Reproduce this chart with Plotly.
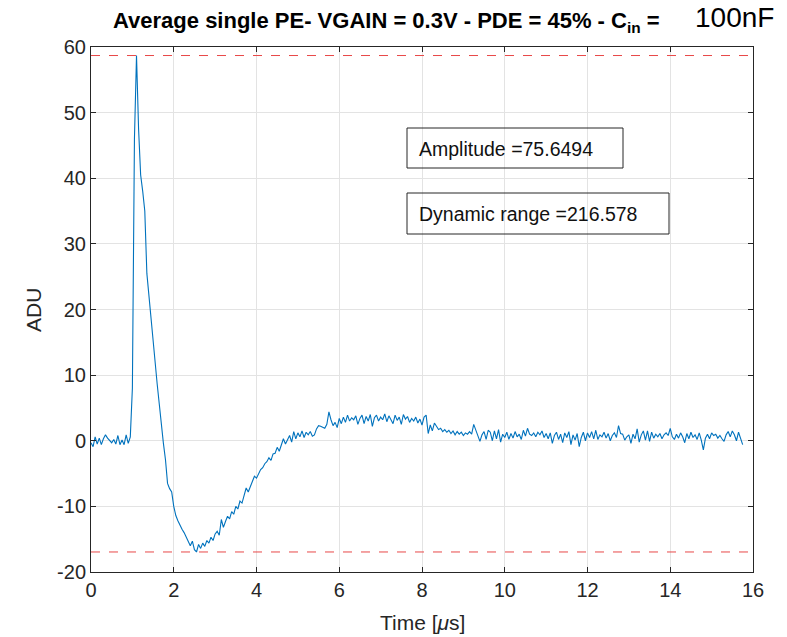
import numpy as np
import plotly.graph_objects as go

# ---- data ----
dt_us = 0.05  # sampling step of the read-off waveform [us]
adu = [
    # 0.00 - 0.95
    -0.3, -0.9, 0.6, -0.5, 0.4, -0.6, 0.3, 0.9, 0.4, 0.1,
    -0.3, 0.2, -0.5, 0.8, -0.6, 0.1, -0.6, 0.9, -0.4, 0.6,
    # 1.00 - 1.95
    8.0, 46.0, 58.7, 47.5, 40.5, 38.0, 35.0, 25.5, 22.0, 18.4,
    14.8, 11.3, 8.6, 5.6, 2.0, -0.4, -2.9, -6.5, -7.3, -7.8,
    # 2.00 - 2.95
    -10.0, -11.4, -12.2, -12.9, -13.5, -14.0, -14.6, -15.2, -16.0, -15.3,
    -16.6, -16.95, -15.8, -16.4, -15.6, -16.1, -15.2, -15.6, -14.7, -15.2,
    # 3.00 - 3.95
    -14.2, -13.8, -14.4, -12.0, -13.2, -12.3, -11.5, -11.9, -10.8, -11.2,
    -10.0, -10.4, -9.2, -9.5, -8.2, -7.2, -7.8, -6.9, -6.0, -5.4,
    # 4.00 - 4.95
    -5.7, -4.9, -4.4, -4.1, -3.5, -3.2, -2.6, -3.0, -2.0, -1.9,
    -1.0, -1.6, -0.5, 0.3, -0.5, 0.2, 0.8, -0.2, 1.4, 0.3,
    # 5.00 - 5.95
    1.2, 0.6, 1.5, 0.5, 1.3, 0.9, 1.4, 0.7, 0.9, 1.8,
    2.3, 2.2, 2.1, 1.9, 2.5, 4.4, 3.2, 2.3, 2.8, 2.0,
    # 6.00 - 6.95
    3.4, 2.6, 3.6, 2.8, 3.9, 3.0, 3.5, 3.2, 3.8, 2.5,
    3.4, 3.9, 2.6, 3.7, 3.0, 4.0, 2.2, 3.5, 3.9, 3.0,
    # 7.00 - 7.95
    3.6, 3.2, 4.1, 2.9, 3.8, 3.3, 2.6, 3.9, 3.1, 3.6,
    2.5, 4.0, 3.3, 3.7, 2.8, 3.4, 3.0, 3.6, 2.7, 3.3,
    # 8.00 - 8.95
    2.4, 3.6, 3.9, 1.1, 2.4, 1.5, 2.7, 2.2, 1.7, 1.9,
    1.4, 1.7, 1.3, 1.6, 1.1, 1.5, 0.9, 1.4, 1.0, 1.3,
    # 9.00 - 9.95
    0.8, 1.2, 1.0, 1.4, 1.0, 2.5, 1.6, 0.6, -0.1, 0.9,
    1.4, 0.2, 1.6, 1.3, 0.0, 1.5, 0.3, 1.7, -0.2, 1.0,
    # 10.00 - 10.95
    0.5, 1.3, 0.2, 1.1, 0.4, 1.4, 0.6, 1.0, 0.2, 1.6,
    0.7, 1.9, 1.0, 0.8, 1.2, 0.6, 1.3, 0.9, 1.5, 0.5,
    # 11.00 - 11.95
    1.1, 0.3, 1.2, -0.4, 0.8, 1.3, 0.2, 1.0, -0.3, 1.2,
    0.5, 1.4, -0.6, 0.9, 0.1, 1.1, -0.9, 0.5, 1.3, 0.0,
    # 12.00 - 12.95
    1.2, 0.5, 1.4, 0.3, 1.6, 0.2, 0.9, 0.6, 1.3, 0.4,
    1.1, 0.0, 0.8, 1.2, 0.5, 2.3, 1.1, 1.0, 0.1, 0.6,
    # 13.00 - 13.95
    0.9, -0.4, 1.0, 0.3, 1.8, -0.2, 0.9, 1.5, 0.1, 1.5,
    -0.1, 1.3, 0.4, 1.0, 0.6, 1.1, 0.3, 0.9, 1.2, 0.8,
    # 14.00 - 14.95
    1.9, 0.6, 0.2, 1.0, 0.4, 1.2, 0.6, -0.3, 1.1, 0.3,
    1.3, 0.5, 0.9, 0.2, 1.2, 0.1, -1.4, 0.4, 1.0, 0.3,
    # 15.00 - 15.75
    1.2, 0.8, 1.0, 0.4, 0.8, 0.3, -0.1, 0.9, 1.4, 0.6,
    1.5, 0.9, 0.0, 1.3, 0.3, -0.6,
]
time_us = np.round(np.arange(len(adu)) * dt_us, 2)

peak_level = 58.7
trough_level = -16.95
amplitude_text = "Amplitude =75.6494"
dynrange_text = "Dynamic range =216.578"
x_ticks = [0, 2, 4, 6, 8, 10, 12, 14, 16]
y_ticks = [-20, -10, 0, 10, 20, 30, 40, 50, 60]
x_ticktext = ["0", "2", "4", "6", "8", "10", "12", "14", "16"]
y_ticktext = ["-20", "-10", "0", "10", "20", "30", "40", "50", "60"]

# ---- figure ----
W, H = 787, 637
L, R, T, B = 91, 34, 47, 65
pw, ph = W - L - R, H - T - B

def px(x):
    return (x - L) / pw

def py(y):
    return (H - B - y) / ph

FONT = "Liberation Sans, Arial, Helvetica, sans-serif"
fig = go.Figure()
fig.add_trace(go.Scatter(x=time_us, y=adu, mode="lines",
                         line=dict(color="#0072BD", width=1.1),
                         showlegend=False, hoverinfo="skip"))
for lvl in (peak_level, trough_level):
    fig.add_trace(go.Scatter(x=[x_ticks[0], x_ticks[-1]], y=[lvl, lvl], mode="lines",
                             line=dict(color="#E84848", width=1, dash="dash"),
                             showlegend=False, hoverinfo="skip"))

axis_common = dict(showline=True, mirror="ticks", linecolor="#262626", linewidth=1,
                   showgrid=True, gridcolor="#E3E3E3", gridwidth=1, zeroline=False,
                   ticks="inside", ticklen=5, tickcolor="#262626",
                   tickfont=dict(family=FONT, size=20, color="#262626"))
fig.update_xaxes(range=[0, 16], tickvals=x_ticks, ticktext=x_ticktext, **axis_common)
fig.update_yaxes(range=[-20, 60], tickvals=y_ticks, ticktext=y_ticktext, **axis_common)

shapes = [
    dict(type="rect", xref="paper", yref="paper", x0=px(407), x1=px(623), y0=py(168), y1=py(128),
         line=dict(color="#262626", width=1), fillcolor="rgba(0,0,0,0)"),
    dict(type="rect", xref="paper", yref="paper", x0=px(407), x1=px(669), y0=py(234), y1=py(193),
         line=dict(color="#262626", width=1), fillcolor="rgba(0,0,0,0)"),
]
annotations = [
    dict(text=amplitude_text, xref="paper", yref="paper", x=px(417), y=py(149),
         xanchor="left", yanchor="middle", showarrow=False,
         font=dict(family=FONT, size=19.5, color="#111111")),
    dict(text=dynrange_text, xref="paper", yref="paper", x=px(417), y=py(214),
         xanchor="left", yanchor="middle", showarrow=False,
         font=dict(family=FONT, size=19.5, color="#111111")),
    dict(text="<b>Average single PE- VGAIN = 0.3V - PDE = 45% - C<sub>in</sub> =</b>",
         xref="paper", yref="paper", x=px(386), y=py(22), xanchor="center", yanchor="middle",
         showarrow=False, font=dict(family=FONT, size=22, color="#000000")),
    dict(text="100nF", xref="paper", yref="paper", x=px(734), y=py(18), xanchor="center",
         yanchor="middle", showarrow=False, font=dict(family=FONT, size=28, color="#000000")),
    dict(text="ADU", xref="paper", yref="paper", x=px(33), y=py(310), xanchor="center",
         yanchor="middle", textangle=-90, showarrow=False,
         font=dict(family=FONT, size=21, color="#262626")),
    dict(text="Time [<i>μ</i>s]", xref="paper", yref="paper", x=px(422), y=py(622),
         xanchor="center", yanchor="middle", showarrow=False,
         font=dict(family=FONT, size=21, color="#262626")),
]
fig.update_layout(width=W, height=H, margin=dict(l=L, r=R, t=T, b=B),
                  paper_bgcolor="white", plot_bgcolor="white",
                  shapes=shapes, annotations=annotations,
                  font=dict(family=FONT))
fig.write_html("out.html")
